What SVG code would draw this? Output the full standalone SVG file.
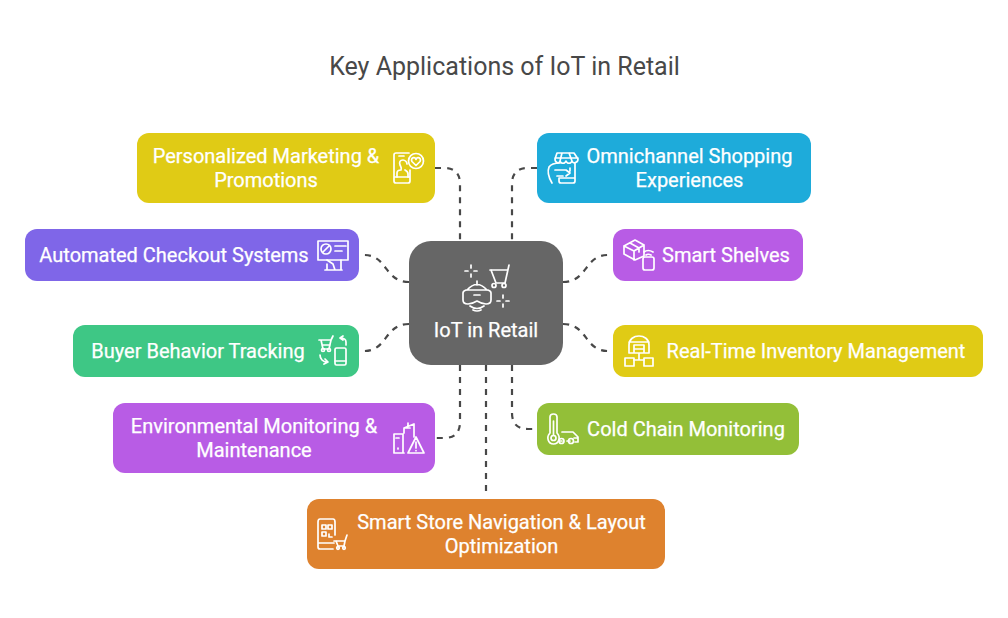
<svg xmlns="http://www.w3.org/2000/svg" width="1008" height="618" viewBox="0 0 1008 618">
<style>
text{font-family:Roboto,"Liberation Sans",sans-serif;font-size:20px;fill:#fff;stroke:#fff;stroke-width:.25;text-anchor:middle}
.t{font-size:25px;fill:#484848;stroke:none}
.c{fill:none;stroke:#484848;stroke-width:2.2;stroke-dasharray:6 6}
.i{fill:none;stroke:#fff;stroke-width:1.7;stroke-linecap:round;stroke-linejoin:round}
</style>
<rect width="1008" height="618" fill="#fff"/>
<text class="t" x="504.500" y="75">Key Applications of IoT in Retail</text>
<g id="connectors">
<path class="c" d="M435 168H444Q460 168 460 184V241"/>
<path class="c" d="M537 168H528Q512 168 512 184V241"/>
<path class="c" d="M409 282C384 282 388 255 364 255"/>
<path class="c" d="M409 324C384 324 388 351 364 351"/>
<path class="c" d="M563 282C588 282 584 255 608 255"/>
<path class="c" d="M563 324C588 324 584 351 608 351"/>
<path class="c" d="M460 365V422Q460 438 444 438H435"/>
<path class="c" d="M512 365V413Q512 429 528 429H537"/>
<path class="c" d="M486 365V494"/>
</g>
<g id="center">
<rect x="409" y="241" width="154" height="124" rx="22" fill="#666"/>
<g class="i">
<path d="M471 265V268M471 274V277M465 271H468M474 271H477"/>
<path d="M490 270H507M509 265L505 283H496L491 270"/>
<circle cx="494" cy="285.500" r="2"/><circle cx="504" cy="285.500" r="2"/>
<path d="M477 281V285M467 290Q477 279 487 290M463 293Q463 291 466 290H488Q491 291 491 293V300Q491 304 486 304Q482 304 477 301Q472 304 468 304Q463 304 463 300ZM474 295H480M470 306Q477 311 484 306M473 310Q477 312 481 310"/>
<path d="M503 295V298M503 304V307M497 301H500M506 301H509"/>
</g>
<text x="486" y="337">IoT in Retail</text>
</g>
<g id="personalized">
<rect x="137" y="133" width="298" height="70" rx="12" fill="#e0cb15"/>
<text x="266" y="163">Personalized Marketing &amp;</text><text x="266" y="187">Promotions</text>
<g class="i"><path d="M410 170V181C410 182 409 183 408 183H396C395 183 394 182 394 181V155C394 154 395 153 396 153H409M399 156H404M394 177H410"/><path d="M397 177V173C397 171 399 170 401 170C402 168 401 167 400 165C399 162 400 160 403 160C405 160 407 162 407 164M405 170C407 171 408 172 408 174V177"/><circle cx="416" cy="161" r="7.500"/><path d="M416 165.500L412 161.500C410 158 415 156 416 159.500C417 156 422 158 420 161.500Z"/></g>
</g>
<g id="omnichannel">
<rect x="537" y="133" width="274" height="70" rx="12" fill="#1eabda"/>
<text x="689.500" y="163">Omnichannel Shopping</text><text x="689.500" y="187">Experiences</text>
<g class="i"><path d="M557 153H574L578 159C578 163 573 164 572 161C571 164 567 164 566 161C565 164 561 164 560 161C559 164 555 163 555 159ZM562 153L560 161M569 153L572 161M555 158H578M575 163V181C575 182 574 183 573 183H561C559 183 559 182 559 181V178M559 178H575"/><path d="M552 183C549 178 547 172 549 167C551 164 555 163 560 163M555 170H566L570 173L566 176M557 176H563M570 168V171"/></g>
</g>
<g id="automated">
<rect x="25" y="229" width="334" height="52" rx="12" fill="#7f66e8"/>
<text x="174" y="262">Automated Checkout Systems</text>
<g class="i"><rect x="318" y="241" width="30" height="19"/><circle cx="326" cy="249" r="5"/><path d="M323 252L329 246M335 246H346M335 251H342M327 260L333 264L335 270M327 264V270M341 260V270M325 270H342"/></g>
</g>
<g id="shelves">
<rect x="613" y="229" width="190" height="52" rx="12" fill="#b85ce5"/>
<text x="726" y="262">Smart Shelves</text>
<g class="i"><path d="M624 246L635 240L644 245V256L635 260L624 254ZM624 246L634 251L644 245M634 251V260M630 243L639 248V252"/><rect x="643" y="257" width="11" height="13" rx="2"/><path d="M644 252Q648 249 653 252M646 255Q648 253.500 651 255"/></g>
</g>
<g id="buyer">
<rect x="73" y="325" width="286" height="52" rx="12" fill="#3ec785"/>
<text x="198" y="358">Buyer Behavior Tracking</text>
<g class="i"><path d="M319 340H331L333 336M321 340L323 349H329L331 340M322 345H330"/><circle cx="323" cy="350" r="1.500"/><circle cx="329" cy="350" r="1.500"/><path d="M346 345V342C346 339 343 338 340 338M343 336L340 338L343 340M320 355C320 359 323 362 327 362M325 359L328 362L324 364"/><rect x="335" y="348" width="11" height="17" rx="1.500"/><path d="M335 361H346"/></g>
</g>
<g id="inventory">
<rect x="613" y="325" width="370" height="52" rx="12" fill="#e0cb15"/>
<text x="816" y="358">Real-Time Inventory Management</text>
<g class="i"><path d="M629 353V345C629 339 634 336 639 336C644 336 649 339 649 345V353H629M629 342H649M634 353V345H644V353M634 349H644M639 353V360M634 360H644"/><rect x="625" y="358" width="9" height="8"/><rect x="644" y="358" width="9" height="8"/></g>
</g>
<g id="environmental">
<rect x="113" y="403" width="322" height="70" rx="12" fill="#b85ce5"/>
<text x="254" y="433">Environmental Monitoring &amp;</text><text x="254" y="457">Maintenance</text>
<g class="i"><path d="M394 453V434H403V453ZM394 453H404M396 438H399M398 448V449M404 433V428L414 424V437M404 428H410M408 423V426"/><path d="M416 437L424 453H408ZM416 442V448M416 450.500V450.700"/></g>
</g>
<g id="cold">
<rect x="537" y="403" width="262" height="52" rx="12" fill="#93bf38"/>
<text x="686" y="436">Cold Chain Monitoring</text>
<g class="i"><path d="M550 417C550 413 557 413 557 417V433C561 437 559 444 553.500 444C548 444 546 437 550 433Z"/><circle cx="553.500" cy="438" r="2.500"/><path d="M553.500 435V421M562 432H573L578 437V442H575M562 441H560M567 441H570M574 438H578"/><circle cx="561.500" cy="441" r="2.500"/><circle cx="571" cy="441" r="2.500"/></g>
</g>
<g id="navigation">
<rect x="307" y="499" width="358" height="70" rx="12" fill="#de822e"/>
<text x="501.500" y="529">Smart Store Navigation &amp; Layout</text><text x="501.500" y="553">Optimization</text>
<g class="i"><path d="M335 535V522C335 520 334 519 333 519H320C319 519 318 520 318 522V547C318 548 319 549 320 549H333M318 543H334"/><path d="M322 525H326V529H322ZM328 525H332V529H328ZM322 532H326V536H322ZM329 534V537H332"/><path d="M334 541H345L347 535M336 541L338 546H344L345 541"/><circle cx="338" cy="548" r="1.300"/><circle cx="344" cy="548" r="1.300"/></g>
</g>
</svg>
